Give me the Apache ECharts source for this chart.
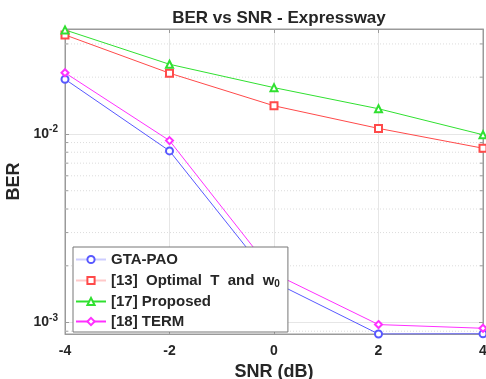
<!DOCTYPE html>
<html>
<head>
<meta charset="utf-8">
<script src="https://cdn.jsdelivr.net/npm/echarts@6/dist/echarts.min.js"></script>
<style>html,body{margin:0;padding:0;background:#fff}#c{width:486px;height:379px}</style>
</head>
<body>
<div id="c"></div>
<script>
const snr = [-4, -2, 0, 2, 4];
const gtaPao = [0.0195, 0.00813, 0.00164, 0.00087, 0.000872];
const opt13 = [0.0335, 0.0210, 0.0141, 0.0107, 0.0084];
const prop17 = [0.0356, 0.0234, 0.0176, 0.0136, 0.0099];
const term18 = [0.0211, 0.00922, 0.00182, 0.000976, 0.000933];
const seriesNames = ['GTA-PAO', '[13]  Optimal  T  and  w0', '[17] Proposed', '[18] TERM'];
const xTicks = [-4, -2, 0, 2, 4];
const minorTicks = [0.0009, 0.002, 0.003, 0.004, 0.005, 0.006, 0.007, 0.008, 0.009, 0.02, 0.03];
const yMin = 0.00087, yMax = 0.036;

const FONT = 'Liberation Sans, Arial, Helvetica, sans-serif';
const TXT = '#262626';
const AX = '#9a9a9a';

function pairs(vals){ return snr.map((x,i)=>[x, vals[i]]); }

const chart = echarts.init(document.getElementById('c'), null, {renderer:'canvas'});
const mkSeries = (name, vals, color, symbol) => ({
  name, type:'line', data: pairs(vals), symbol, symbolSize: 7,
  lineStyle:{color, width:1}, itemStyle:{color, borderColor:color, borderWidth:1},
  emphasis:{disabled:true}, z:3
});

const option = {
  animation:false,
  backgroundColor:'#fff',
  title:{text:'BER vs SNR - Expressway', left:274, textAlign:'center', top:5,
    textStyle:{fontFamily:FONT, fontSize:17, fontWeight:'bold', color:TXT}},
  grid:{left:65, right:3, top:29, bottom:45, show:true, borderColor:AX, borderWidth:1, backgroundColor:'#fff',
    containLabel:false, outerBoundsMode:'none'},
  xAxis:[{
    type:'value', min:xTicks[0], max:xTicks[xTicks.length-1], interval:2,
    name:'SNR (dB)', nameLocation:'middle', nameGap:25,
    nameTextStyle:{fontFamily:FONT, fontSize:18, fontWeight:'bold', color:TXT},
    axisLine:{show:true, onZero:false, lineStyle:{color:AX}},
    axisTick:{show:true, inside:true, length:4, lineStyle:{color:AX}},
    axisLabel:{fontFamily:FONT, fontSize:14, fontWeight:'bold', color:TXT, margin:10},
    splitLine:{show:true, lineStyle:{color:'#e6e6e6', width:1}}
  },{
    type:'value', position:'top', min:xTicks[0], max:xTicks[xTicks.length-1], interval:2,
    axisLine:{show:true, onZero:false, lineStyle:{color:AX}},
    axisTick:{show:true, inside:true, length:4, lineStyle:{color:AX}},
    axisLabel:{show:false}, splitLine:{show:false}
  }],
  yAxis:[{
    type:'log', logBase:10, min:yMin, max:yMax,
    name:'BER', nameLocation:'middle', nameGap:37, nameRotate:90,
    nameTextStyle:{fontFamily:FONT, fontSize:18, fontWeight:'bold', color:TXT},
    axisLine:{show:true, onZero:false, lineStyle:{color:AX}},
    axisTick:{show:true, inside:true, length:4, lineStyle:{color:AX}},
    axisLabel:{fontFamily:FONT, fontSize:14, fontWeight:'bold', color:TXT, margin:7,
      showMinLabel:false, showMaxLabel:false,
      formatter:function(v){
        const e = Math.log10(v);
        if (Math.abs(e-Math.round(e))<1e-6) return '{b|10}{s|'+Math.round(e)+'}';
        return '';
      },
      rich:{b:{fontFamily:FONT, fontSize:14, fontWeight:'bold', color:TXT},
            s:{fontFamily:FONT, fontSize:10, fontWeight:'bold', color:TXT, padding:[0,0,9,0]}}
    },
    splitLine:{show:true, lineStyle:{color:'#e6e6e6', width:1}}
  },{
    type:'log', logBase:10, min:yMin, max:yMax, position:'right',
    axisLine:{show:true, onZero:false, lineStyle:{color:AX}},
    axisTick:{show:true, inside:true, length:4, lineStyle:{color:AX}},
    axisLabel:{show:false}, splitLine:{show:false}
  }],
  legend:{
    orient:'vertical', left:73, top:247, z:10,
    padding:[5,8,3,2], itemGap:5, itemWidth:30, itemHeight:9,
    backgroundColor:'#fff', borderColor:'#777', borderWidth:1,
    data:[
      {name:seriesNames[0], lineStyle:{opacity:0.3}},
      {name:seriesNames[1], lineStyle:{opacity:0.3}},
      {name:seriesNames[2]},
      {name:seriesNames[3]}
    ],
    formatter:function(n){
      if (n.endsWith('w0')) return '{t|'+n.slice(0,-1)+'}{u|0}';
      return '{t|'+n+'}';
    },
    textStyle:{fontFamily:FONT, fontSize:15, fontWeight:'bold', color:TXT, lineHeight:14,
      rich:{t:{fontFamily:FONT, fontSize:15, fontWeight:'bold', color:TXT, lineHeight:14},
            u:{fontFamily:FONT, fontSize:10, fontWeight:'bold', color:TXT, padding:[7,0,0,0], lineHeight:14}}}
  },
  series:[
    mkSeries(seriesNames[0], gtaPao, '#5858ff', 'emptyCircle'),
    mkSeries(seriesNames[1], opt13, '#ff4a4a', 'emptyRect'),
    mkSeries(seriesNames[2], prop17, '#30e030', 'emptyTriangle'),
    mkSeries(seriesNames[3], term18, '#ff30ff', 'emptyDiamond'),
    {
      name:'minor', type:'custom', silent:true, z:1,
      data: minorTicks.map(v=>[snr[0], v]),
      renderItem:function(params, api){
        const cs = params.coordSys;
        const y = api.coord([snr[0], api.value(1)])[1];
        const x0 = cs.x, x1 = cs.x + cs.width;
        return {type:'group', children:[
          {type:'line', shape:{x1:x0, y1:y, x2:x1, y2:y}, style:{stroke:'#dcdcdc', lineWidth:1, lineDash:[1,2]}},
          {type:'line', shape:{x1:x0, y1:y, x2:x0+3, y2:y}, style:{stroke:AX, lineWidth:1}},
          {type:'line', shape:{x1:x1-3, y1:y, x2:x1, y2:y}, style:{stroke:AX, lineWidth:1}}
        ]};
      }
    }
  ]
};
chart.setOption(option);
</script>
</body>
</html>
